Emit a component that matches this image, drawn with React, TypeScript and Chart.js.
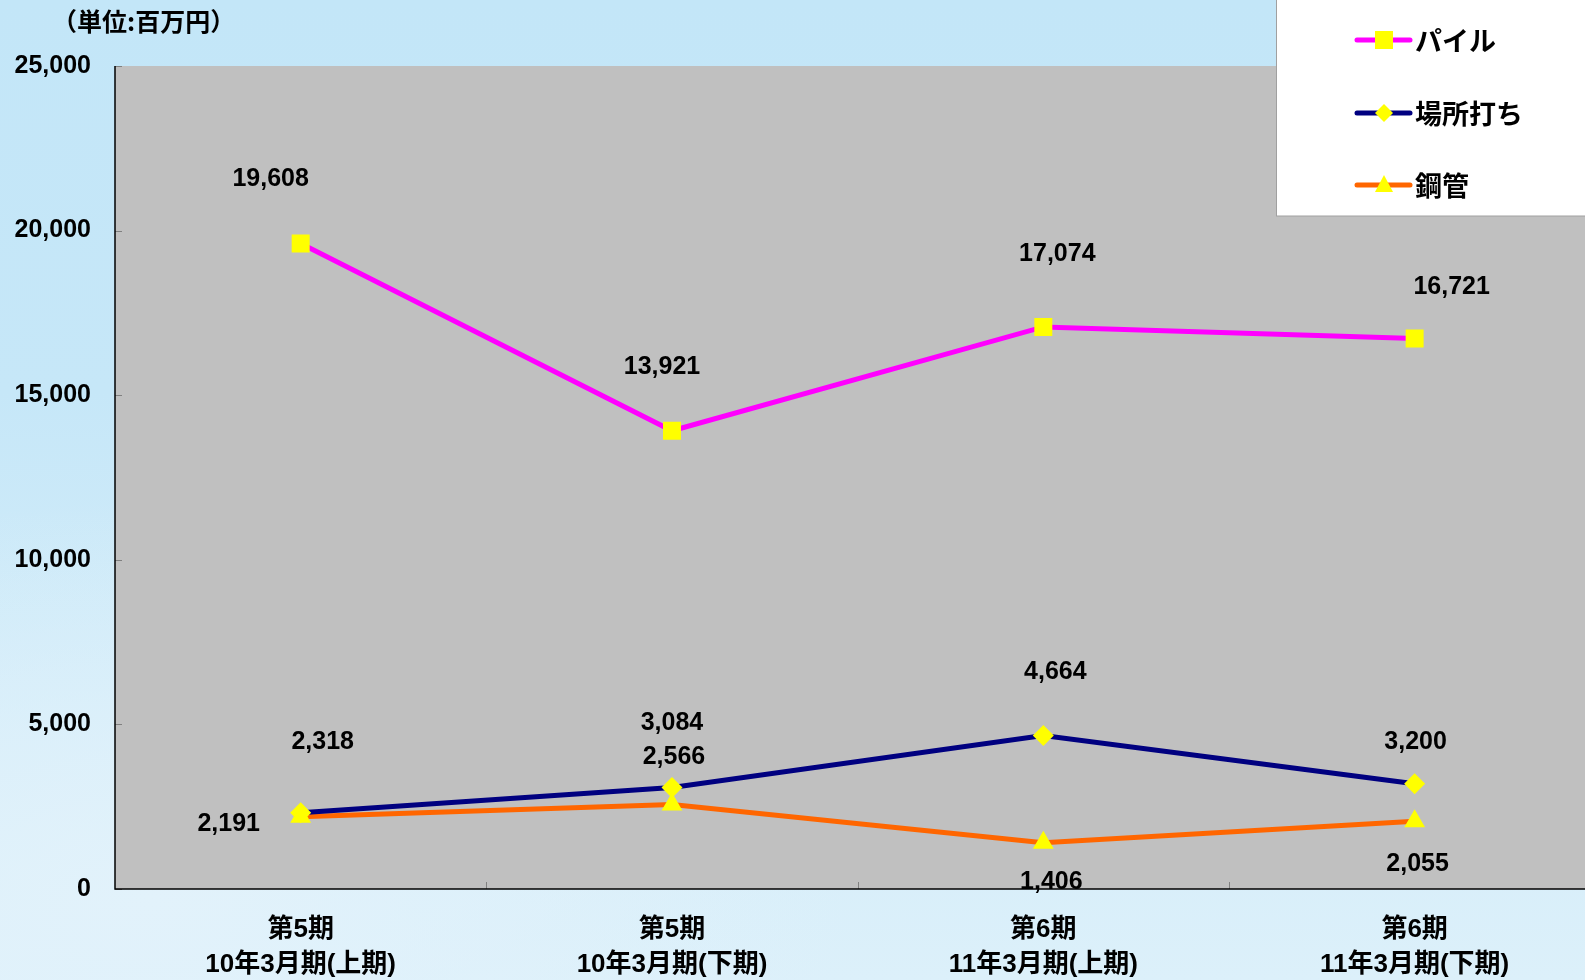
import React, { useEffect, useRef } from "react";
import { Chart, registerables } from "chart.js";

Chart.register(...registerables);

// ---- data ----
const categories: string[][] = [
  ["第5期", "10年3月期(上期)"],
  ["第5期", "10年3月期(下期)"],
  ["第6期", "11年3月期(上期)"],
  ["第6期", "11年3月期(下期)"],
];
const seriesNames = ["パイル", "場所打ち", "鋼管"];
const pileValues = [19608, 13921, 17074, 16721];
const bashoValues = [2318, 3084, 4664, 3200];
const koukanValues = [2191, 2566, 1406, 2055];
const yTickValues = [0, 5000, 10000, 15000, 20000, 25000];
const unitLabel = "（単位:百万円）";

// ---- styles ----
const seriesColors = ["#ff00ff", "#000080", "#ff6600"];
const markerColor = "#ffff00";
const pointStyles = ["rect", "rectRot", "triangle"];
const pointRadii = [12.7, 10.5, 12];
// label offsets (px) from each point, per series
const labelOffsets: number[][][] = [
  [[-30, -64], [-10, -64], [14, -73], [37, -51]],
  [[22, -71], [0, -64], [12, -63], [1, -42]],
  [[-72, 7], [2, -47], [8, 39], [3, 43]],
];

const NUM_FONT = "'Liberation Sans', sans-serif";
const JP_FONT = "'Liberation Sans', 'Noto Sans CJK JP', sans-serif";

const fmt = (v: number) => v.toLocaleString("en-US");

const decorPlugin = {
  id: "decor",
  beforeDatasetsDraw(chart: any) {
    const { ctx, chartArea } = chart;
    ctx.save();
    ctx.fillStyle = "#c0c0c0";
    ctx.fillRect(chartArea.left, chartArea.top, chartArea.right - chartArea.left, chartArea.bottom - chartArea.top);
    // inner tick marks
    ctx.strokeStyle = "#808080";
    ctx.lineWidth = 1;
    const ys = chart.scales.y;
    yTickValues.forEach((v) => {
      const py = Math.round(ys.getPixelForValue(v)) + 0.5;
      ctx.beginPath();
      ctx.moveTo(chartArea.left, py);
      ctx.lineTo(chartArea.left + 7, py);
      ctx.stroke();
    });
    const xs = chart.scales.x;
    for (let i = 1; i <= categories.length; i++) {
      const px = Math.round(xs.getPixelForValue(i - 0.5)) + 0.5;
      ctx.beginPath();
      ctx.moveTo(px, chartArea.bottom);
      ctx.lineTo(px, chartArea.bottom - 7);
      ctx.stroke();
    }
    // axes
    ctx.strokeStyle = "#000";
    ctx.lineWidth = 1.5;
    ctx.beginPath();
    ctx.moveTo(chartArea.left, chartArea.top);
    ctx.lineTo(chartArea.left, chartArea.bottom);
    ctx.lineTo(chartArea.right, chartArea.bottom);
    ctx.stroke();
    ctx.restore();
  },
  afterDatasetsDraw(chart: any) {
    const { ctx } = chart;
    ctx.save();
    ctx.fillStyle = "#000";
    ctx.textAlign = "center";
    ctx.textBaseline = "middle";
    ctx.font = `bold 25px ${NUM_FONT}`;
    chart.data.datasets.forEach((ds: any, di: number) => {
      const meta = chart.getDatasetMeta(di);
      meta.data.forEach((pt: any, i: number) => {
        const off = labelOffsets[di][i];
        ctx.fillText(fmt(ds.data[i]), pt.x + off[0], pt.y + off[1]);
      });
    });
    // unit label
    ctx.textAlign = "left";
    ctx.font = `bold 25px 'Noto Sans CJK JP', sans-serif`;
    ctx.fillText(unitLabel, 52, 21);
    ctx.restore();
  },
  afterDraw(chart: any) {
    const { ctx } = chart;
    ctx.save();
    // legend box
    const bx = 1276.5, by = -1, bw = 340, bh = 217;
    ctx.fillStyle = "#ffffff";
    ctx.fillRect(bx, by, bw, bh);
    ctx.strokeStyle = "#a0a0a0";
    ctx.lineWidth = 1;
    ctx.strokeRect(bx, by, bw, bh);
    const itemYs = [40, 113, 185];
    seriesNames.forEach((name, i) => {
      const y = itemYs[i];
      ctx.strokeStyle = seriesColors[i];
      ctx.lineWidth = 5;
      ctx.lineCap = "round";
      ctx.beginPath();
      ctx.moveTo(1357, y);
      ctx.lineTo(1410, y);
      ctx.stroke();
      ctx.fillStyle = markerColor;
      const cx = 1384;
      ctx.beginPath();
      if (i === 0) {
        ctx.rect(cx - 9, y - 9, 18, 18);
      } else if (i === 1) {
        ctx.moveTo(cx, y - 9);
        ctx.lineTo(cx + 9, y);
        ctx.lineTo(cx, y + 9);
        ctx.lineTo(cx - 9, y);
        ctx.closePath();
      } else {
        ctx.moveTo(cx, y - 10);
        ctx.lineTo(cx + 9, y + 7);
        ctx.lineTo(cx - 9, y + 7);
        ctx.closePath();
      }
      ctx.fill();
      ctx.fillStyle = "#000";
      ctx.font = `bold 27px 'Noto Sans CJK JP', sans-serif`;
      ctx.textAlign = "left";
      ctx.textBaseline = "middle";
      ctx.fillText(name, 1415, y + 1);
    });
    ctx.restore();
  },
};

export default function App() {
  const canvasRef = useRef<HTMLCanvasElement | null>(null);

  useEffect(() => {
    if (!canvasRef.current) return;
    const seriesData = [pileValues, bashoValues, koukanValues];
    const chart = new Chart(canvasRef.current, {
      type: "line",
      data: {
        labels: categories,
        datasets: seriesNames.map((name, i) => ({
          label: name,
          data: seriesData[i],
          borderColor: seriesColors[i],
          backgroundColor: markerColor,
          borderWidth: 5,
          pointStyle: pointStyles[i] as any,
          pointRadius: pointRadii[i],
          pointBackgroundColor: markerColor,
          pointBorderColor: markerColor,
          pointBorderWidth: 0,
          tension: 0,
          fill: false,
        })),
      },
      options: {
        animation: false,
        responsive: false,
        devicePixelRatio: 1,
        layout: { padding: { top: 66, right: 1, left: 0, bottom: 0 } },
        plugins: {
          legend: { display: false },
          tooltip: { enabled: false },
          title: { display: false },
        },
        scales: {
          x: {
            type: "category",
            offset: true,
            grid: { display: false, drawTicks: false },
            border: { display: false },
            ticks: {
              color: "#000",
              padding: 24,
              font: { family: JP_FONT, size: 26, weight: "bold", lineHeight: 1.33 },
              maxRotation: 0,
              autoSkip: false,
            },
            afterFit: (s: any) => {
              s.height = 91;
            },
          },
          y: {
            min: 0,
            max: 25000,
            grid: { display: false, drawTicks: false },
            border: { display: false },
            ticks: {
              stepSize: 5000,
              color: "#000",
              padding: 24,
              font: { family: NUM_FONT, size: 25, weight: "bold" },
              callback: (v: any) => fmt(Number(v)),
            },
            afterFit: (s: any) => {
              s.width = 115;
            },
          },
        },
      },
      plugins: [decorPlugin],
    });
    return () => chart.destroy();
  }, []);

  return (
    <div
      style={{
        position: "fixed",
        left: 0,
        top: 0,
        width: 1585,
        height: 980,
        overflow: "hidden",
        background:
          "radial-gradient(ellipse 700px 400px at 150px 900px, #e2f2fb 0%, rgba(226,242,251,0) 100%), linear-gradient(to bottom, #c3e6f8 0%, #c6e7f8 40%, #d2ecf9 70%, #dcf0fa 100%)",
      }}
    >
      <canvas ref={canvasRef} width={1613} height={980} style={{ display: "block", width: 1613, height: 980 }} />
    </div>
  );
}
